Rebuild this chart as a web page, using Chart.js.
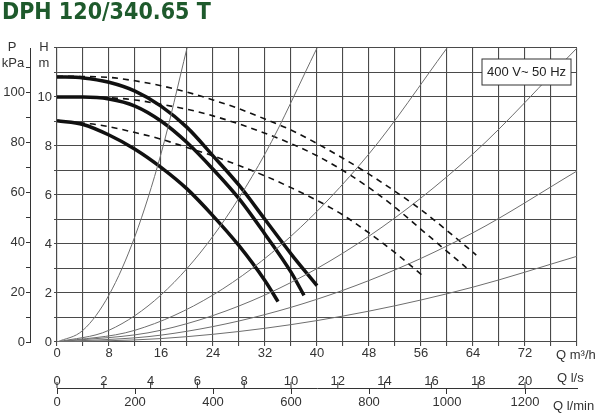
<!DOCTYPE html>
<html>
<head>
<meta charset="utf-8">
<script src="https://cdn.jsdelivr.net/npm/chart.js@4.4.1/dist/chart.umd.min.js"></script>
<style>
  body { margin: 0; background: #fff; }
  canvas { display: block; }
</style>
</head>
<body>
<canvas id="chartPompa" width="600" height="414"></canvas>
<script>
// pump curves, Q in m3/h, H in m
const solidTop = [[0,10.82],[4,10.78],[8,10.6],[12,10.24],[16,9.63],[20,8.76],[24,7.6],[28,6.4],[32,5.0],[36,3.6],[40,2.3]];
const solidMid = [[0,10.0],[4,10.0],[8,9.92],[12,9.63],[16,9.02],[20,8.14],[24,7.05],[28,5.85],[32,4.4],[36,2.85],[38,1.9]];
const solidLow = [[0,9.03],[4,8.88],[8,8.45],[12,7.87],[16,7.13],[20,6.25],[24,5.15],[28,3.93],[32,2.5],[34,1.65]];
const dashTop = [[0,10.85],[8,10.8],[12,10.66],[16,10.46],[20,10.2],[24,9.88],[28,9.52],[32,9.1],[36,8.65],[40,8.1],[44,7.5],[48,6.85],[52,6.15],[56,5.4],[60,4.55],[64.5,3.55]];
const dashMid = [[0,10.0],[8,9.97],[12,9.88],[16,9.7],[20,9.5],[24,9.23],[28,8.9],[32,8.52],[36,8.1],[40,7.6],[44,7.0],[48,6.3],[52,5.5],[56,4.6],[60,3.7],[63,3.03]];
const dashLow = [[0,9.03],[6.7,8.85],[12,8.55],[16,8.28],[20,7.94],[24,7.6],[28,7.2],[32,6.78],[36,6.3],[40,5.78],[44,5.18],[48,4.45],[52,3.65],[56.3,2.7]];

// system curves (thin grey)
const sys1 = [[0,0],[4,0.48],[8,1.92],[12,4.32],[16,7.68],[20,12]];
const sys2 = [[0,0],[8,0.48],[16,1.92],[24,4.32],[32,7.68],[40,12]];
const sys3 = [[0,0],[12,0.48],[24,1.92],[36,4.32],[48,7.68],[60,12]];
const sys4 = [[0,0],[16,0.48],[32,1.92],[48,4.32],[64,7.68],[80,12]];
const sys5 = [[0,0],[16,0.28],[32,1.12],[48,2.51],[64,4.46],[80,6.98]];
const sys6 = [[0,0],[16,0.14],[32,0.56],[48,1.26],[64,2.24],[80,3.5]];

const qMax = 80;        // m3/h
const hMax = 12;        // m
const pMax = 117.72;    // kPa (12 m)
const lsMax = qMax / 3.6;
const lminMax = qMax / 0.06;

const FONT = "'Liberation Sans', Arial, sans-serif";
const GRID = '#4a4a4a';
const TXT = '#333';

const toPts = arr => arr.map(p => ({ x: p[0], y: p[1] }));

const sysSet = d => ({ data: toPts(d), borderColor: '#6e6e6e', borderWidth: 1, pointRadius: 0, cubicInterpolationMode: 'monotone', fill: false });
const solidSet = d => ({ data: toPts(d), borderColor: '#111', borderWidth: 3.5, pointRadius: 0, cubicInterpolationMode: 'monotone', fill: false, borderCapStyle: 'butt' });
const dashSet = d => ({ data: toPts(d), borderColor: '#111', borderWidth: 1.6, borderDash: [6, 5], pointRadius: 0, cubicInterpolationMode: 'monotone', fill: false });

const extras = {
  id: 'extras',
  afterDraw(chart) {
    const c = chart.ctx;
    c.save();
    // title
    c.fillStyle = '#1e5a2c';
    c.font = "bold 23px 'Liberation Sans Narrow', 'DejaVu Sans Condensed', sans-serif";
    c.textBaseline = 'top';
    c.textAlign = 'left';
    c.fillText('DPH 120/340.65 T', 2, 2);
    // axis units
    c.fillStyle = TXT;
    c.font = '13px ' + FONT;
    c.textAlign = 'center';
    c.textBaseline = 'middle';
    c.fillText('P', 12, 47);
    c.fillText('kPa', 13, 63);
    c.fillText('H', 44, 47);
    c.fillText('m', 44, 63);
    // bottom axis titles
    c.textAlign = 'left';
    const x2 = chart.scales.x2, x3 = chart.scales.x3;
    c.fillText('Q m\u00B3/h', 556, 355);
    c.fillText('Q l/s', 557, 378);
    c.fillText('Q l/min', 553, 406);
    // l/s tick marks above the shared line
    c.strokeStyle = TXT;
    c.lineWidth = 1;
    x2.ticks.forEach(t => {
      if (t.value > 20) return;
      const px = x2.getPixelForValue(t.value);
      c.beginPath();
      c.moveTo(px, x3.top - 6);
      c.lineTo(px, x3.top);
      c.stroke();
    });
    // legend box
    c.fillStyle = '#fff';
    c.fillRect(482, 59, 89, 26);
    c.strokeStyle = '#333';
    c.strokeRect(482, 59, 89, 26);
    c.fillStyle = '#222';
    c.textAlign = 'center';
    c.fillText('400 V~ 50 Hz', 526.5, 72);
    c.restore();
  }
};

const ctx = document.getElementById('chartPompa').getContext('2d');
new Chart(ctx, {
  type: 'line',
  data: {
    datasets: [
      sysSet(sys1), sysSet(sys2), sysSet(sys3), sysSet(sys4), sysSet(sys5), sysSet(sys6),
      dashSet(dashTop), dashSet(dashMid), dashSet(dashLow),
      solidSet(solidTop), solidSet(solidMid), solidSet(solidLow)
    ]
  },
  options: {
    responsive: false,
    animation: false,
    layout: { padding: { top: 48, right: 23, left: 0, bottom: 0 } },
    plugins: { legend: { display: false }, tooltip: { enabled: false } },
    scales: {
      x: {
        type: 'linear', min: 0, max: qMax, position: 'bottom',
        grid: { color: GRID, lineWidth: 1.1, tickLength: 4 },
        border: { color: GRID, width: 1.1 },
        ticks: { stepSize: 4, color: TXT, font: { family: FONT, size: 13 }, padding: 0, maxRotation: 0, autoSkip: false,
          callback: v => (v % 8 === 0 && v <= 72) ? v : '' },
        afterFit: s => { s.height = 24; }
      },
      x2: {
        type: 'linear', min: 0, max: lsMax, position: 'bottom',
        grid: { display: false },
        border: { display: false },
        ticks: { stepSize: 2, includeBounds: false, color: TXT, font: { family: FONT, size: 13 }, padding: 0, maxRotation: 0, autoSkip: false,
          callback: v => v <= 20 ? v : '' },
        afterFit: s => { s.height = 22; }
      },
      x3: {
        type: 'linear', min: 0, max: lminMax, position: 'bottom',
        grid: { drawOnChartArea: false, color: TXT, tickLength: 6 },
        border: { color: TXT, width: 1 },
        ticks: { stepSize: 200, includeBounds: false, color: TXT, font: { family: FONT, size: 13 }, padding: 1, maxRotation: 0, autoSkip: false,
          callback: v => v <= 1200 ? v : '' },
        afterFit: s => { s.height = 26; }
      },
      y: {
        type: 'linear', min: 0, max: hMax, position: 'left',
        grid: { color: GRID, lineWidth: 1.1, tickLength: 3 },
        border: { color: GRID, width: 1.1 },
        ticks: { stepSize: 1, color: TXT, font: { family: FONT, size: 13 }, padding: 2, autoSkip: false,
          callback: v => (v % 2 === 0 && v <= 10) ? v : '' },
        afterFit: s => { s.width = 27; }
      },
      y2: {
        type: 'linear', min: 0, max: pMax, position: 'left',
        grid: { drawOnChartArea: false, color: TXT, tickLength: 4 },
        border: { color: TXT, width: 1 },
        ticks: { stepSize: 10, includeBounds: false, color: TXT, font: { family: FONT, size: 13 }, padding: 1, autoSkip: false,
          callback: v => (v % 20 === 0 && v <= 100) ? v : '' },
        afterFit: s => { s.width = 30; }
      }
    }
  },
  plugins: [extras]
});
</script>
</body>
</html>
